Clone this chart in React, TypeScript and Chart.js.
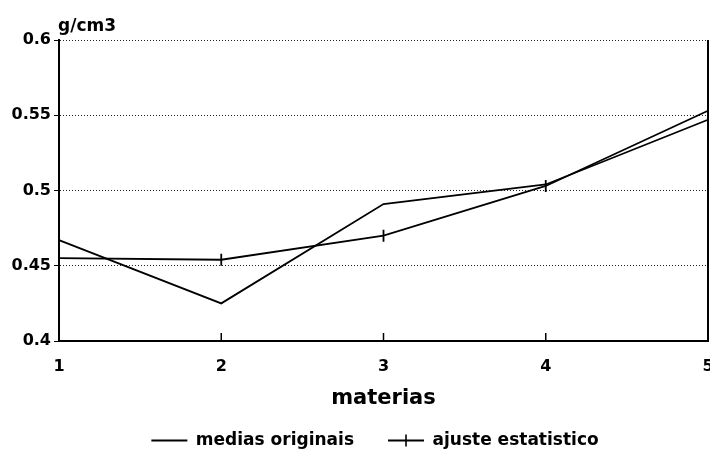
import React, { useEffect, useRef } from "react";
import { Chart, registerables } from "chart.js";

Chart.register(...registerables);

const categories = ["1", "2", "3", "4", "5"];
const mediasOriginais = [0.467, 0.425, 0.491, 0.504, 0.547];
const ajusteEstatistico = [0.455, 0.454, 0.47, 0.503, 0.553];
const yTicks = [0.4, 0.45, 0.5, 0.55, 0.6];

const FONT = "'DejaVu Sans', 'Liberation Sans', sans-serif";

const framePlugin = {
  id: "frame",
  afterLayout(chart: any) {
    const lg = chart.legend;
    if (lg) {
      lg.left += 21;
      lg.right += 21;
      lg.top -= 10;
      lg.bottom -= 10;
    }
  },
  afterDraw(chart: any) {
    const { ctx, chartArea } = chart;
    ctx.save();
    ctx.strokeStyle = "#000";
    ctx.lineWidth = 2;
    ctx.beginPath();
    ctx.moveTo(chartArea.right, chartArea.top);
    ctx.lineTo(chartArea.right, chartArea.bottom);
    ctx.stroke();
    const xs = chart.scales.x;
    ctx.lineWidth = 1.5;
    for (let i = 1; i < categories.length - 1; i++) {
      const px = xs.getPixelForValue(i);
      ctx.beginPath();
      ctx.moveTo(px, chartArea.bottom);
      ctx.lineTo(px, chartArea.bottom - 8);
      ctx.stroke();
    }
    const boxes = chart.legend && chart.legend.legendHitBoxes;
    if (boxes && boxes[1]) {
      const b = boxes[1];
      const cx = b.left + 18;
      const cy = b.top + b.height / 2;
      ctx.lineWidth = 1.6;
      ctx.beginPath();
      ctx.moveTo(cx, cy - 6);
      ctx.lineTo(cx, cy + 6);
      ctx.stroke();
    }
    ctx.fillStyle = "#000";
    ctx.font = `bold 17px ${FONT}`;
    ctx.textAlign = "left";
    ctx.textBaseline = "bottom";
    ctx.fillText("g/cm3", chartArea.left - 1, chartArea.top - 5);
    ctx.restore();
  },
};

export default function App() {
  const ref = useRef<HTMLCanvasElement>(null);
  useEffect(() => {
    document.body.style.margin = "0";
    const chart = new Chart(ref.current!, {
      type: "line",
      data: {
        labels: categories,
        datasets: [
          {
            label: "medias originais",
            data: mediasOriginais,
            borderColor: "#000",
            backgroundColor: "#000",
            borderWidth: 1.8,
            pointRadius: 0,
            tension: 0,
          },
          {
            label: "ajuste estatistico",
            data: ajusteEstatistico,
            borderColor: "#000",
            backgroundColor: "#000",
            borderWidth: 1.8,
            pointStyle: "line",
            pointRotation: 90,
            pointRadius: 6,
            pointBorderWidth: 1.8,
            tension: 0,
          },
        ],
      },
      options: {
        animation: false,
        responsive: false,
        maintainAspectRatio: false,
        layout: { autoPadding: false, padding: { top: 40, right: 2, left: 0, bottom: -14 } },
        scales: {
          x: {
            type: "category",
            offset: false,
            grid: { display: false, drawTicks: false },
            border: { color: "#000", width: 2 },
            ticks: {
              color: "#000",
              font: { family: FONT, size: 16, weight: "bold" },
              padding: 16,
              maxRotation: 0,
            },
            title: {
              display: true,
              text: "materias",
              color: "#000",
              font: { family: FONT, size: 21, weight: "bold" },
              padding: { top: 8, bottom: -3 },
            },
            afterFit(axis: any) {
              axis.paddingRight = 0;
              axis.paddingLeft = 0;
              axis.height = 67;
            },
          },
          y: {
            min: 0.4,
            max: 0.6,
            afterBuildTicks(axis: any) {
              axis.ticks = yTicks.map((v) => ({ value: v }));
            },
            afterFit(axis: any) {
              axis.width = 59;
            },
            grid: {
              color: "#222",
              lineWidth: 1,
              tickLength: 5,
              tickColor: "#000",
            },
            border: { color: "#000", width: 2, dash: [1, 2] },
            ticks: {
              color: "#000",
              font: { family: FONT, size: 16, weight: "bold" },
              padding: 3,
              callback: (v: any) => String(Number(v)),
            },
          },
        },
        plugins: {
          legend: {
            position: "bottom",
            labels: {
              color: "#000",
              font: { family: FONT, size: 17, weight: "bold" },
              usePointStyle: false,
              boxWidth: 36,
              boxHeight: 0,
              padding: 34,
            },
          },
          tooltip: { enabled: false },
        },
      },
      plugins: [framePlugin],
    });
    return () => chart.destroy();
  }, []);
  return (
    <div style={{ position: "absolute", left: 0, top: 0, width: 710, height: 455 }}>
      <canvas ref={ref} width={710} height={455} />
    </div>
  );
}
